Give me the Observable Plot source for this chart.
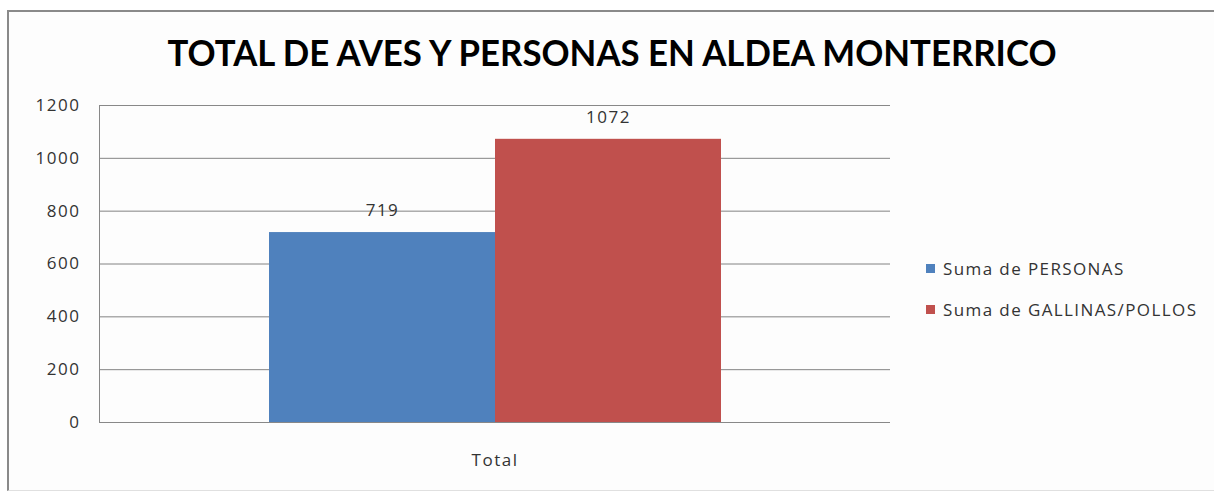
<!DOCTYPE html>
<html>
<head>
<meta charset="utf-8">
<script src="https://cdn.jsdelivr.net/npm/d3@7"></script>
<script src="https://cdn.jsdelivr.net/npm/@observablehq/plot@0.6"></script>
<style>
  html, body { margin: 0; padding: 0; background: #ffffff; }
  #wrap { position: relative; width: 1214px; height: 491px; overflow: hidden; font-family: "Open Sans", sans-serif; }
  #border { position: absolute; left: 7px; top: 10px; width: 1220px; height: 478px; border-left: 2px solid #8a8a8a; border-top: 2px solid #8a8a8a; border-bottom: 1px solid #e0e0e0; background: #fdfdfd; }
  #title { position: absolute; left: 0; top: 0; }
  #chart { position: absolute; left: 0; top: 80px; }
  #chart svg text { fill: #333333; letter-spacing: 1.5px; }
  #legend { position: absolute; left: 926px; top: 248px; font-size: 17px; letter-spacing: 1.4px; color: #333; font-family: "Open Sans", sans-serif; }
  .item { display: flex; align-items: center; height: 41px; }
  .sw { width: 9px; height: 9px; margin-right: 8px; }
</style>
</head>
<body>
<div id="wrap">
  <div id="border"></div>
  <svg id="title" width="1214" height="80">
    <text x="612" y="66" text-anchor="middle" font-family="Lato, sans-serif" font-weight="bold" font-size="36" textLength="889" lengthAdjust="spacingAndGlyphs" fill="#000">TOTAL DE AVES Y PERSONAS EN ALDEA MONTERRICO</text>
  </svg>
  <div id="chart"></div>
  <div id="legend"></div>
</div>
<script>
const categories = ["Total"];
const series = ["Suma de PERSONAS", "Suma de GALLINAS/POLLOS"];
const values = [719, 1072];
const colors = ["#4F81BD", "#C0504D"];
const yTicks = [0, 200, 400, 600, 800, 1000, 1200];

const data = series.map((s, i) => ({category: categories[0], series: s, value: values[i]}));

const chart = Plot.plot({
  width: 1214,
  height: 400,
  marginTop: 25,
  marginBottom: 58,
  marginLeft: 99,
  marginRight: 324,
  style: {color: "#888888", background: "transparent", fontFamily: "Open Sans, sans-serif", fontSize: "17px"},
  fx: {domain: categories, axis: "bottom", padding: 0, tickSize: 0, tickPadding: 31, label: null},
  x: {domain: series, axis: null, paddingInner: 0, paddingOuter: 0.75},
  y: {domain: [0, 1200], ticks: yTicks, tickFormat: d => String(d), tickSize: 0, tickPadding: 19, grid: true, line: true, label: null},
  color: {domain: series, range: colors},
  marks: [
    Plot.gridY(yTicks, {stroke: "#888888", strokeOpacity: 1}),
    Plot.barY(data, {fx: "category", x: "series", y: "value", fill: "series"}),
    Plot.text(data, {fx: "category", x: "series", y: "value", text: d => String(d.value), dy: -22, fontSize: 17, fill: "#333333"})
  ]
});
document.getElementById("chart").appendChild(chart);

const legend = document.getElementById("legend");
series.forEach((s, i) => {
  const row = document.createElement("div");
  row.className = "item";
  const sw = document.createElement("span");
  sw.className = "sw";
  sw.style.background = colors[i];
  const t = document.createElement("span");
  t.textContent = s;
  row.appendChild(sw);
  row.appendChild(t);
  legend.appendChild(row);
});
</script>
</body>
</html>
